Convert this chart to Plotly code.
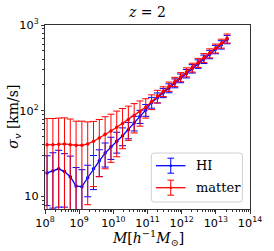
import plotly.graph_objects as go

# ---- data ----
mass = [1.148e8, 1.698e8, 2.512e8, 3.715e8, 5.495e8, 8.128e8, 1.202e9, 1.778e9,
        2.630e9, 3.890e9, 5.754e9, 8.511e9, 1.259e10, 1.862e10, 2.754e10, 4.074e10,
        6.026e10, 8.913e10, 1.318e11, 1.950e11, 2.884e11, 4.266e11, 6.310e11, 9.333e11,
        1.380e12, 2.042e12, 3.020e12, 4.467e12, 6.607e12, 9.772e12, 1.445e13, 2.138e13]
sigma_HI = [18.8, 19.8, 21.0, 19.5, 17.0, 13.2, 13.0, 16.5, 21, 26, 32, 38, 44, 51, 60, 72,
            86, 102, 125, 142, 162, 184, 210, 240, 272, 310, 352, 400, 455, 520, 590, 680]
err_HI = [11, 12.5, 13.5, 12, 12.5, 8.5, 7.5, 6.6, 9, 9, 10, 11, 12, 12, 13, 14,
          15, 16, 18, 19, 20, 22, 25, 28, 31, 35, 40, 45, 51, 58, 66, 76]
sigma_matter = [40, 40, 40.5, 41, 40, 39.5, 39.5, 41, 44, 48, 53, 58, 64, 71, 79, 88,
                98, 110, 128, 148, 168, 192, 218, 248, 282, 320, 364, 414, 470, 535, 610, 700]
err_matter = [41, 41, 41.5, 41.5, 40, 36, 36, 33, 31, 31, 32, 33, 35, 35, 34, 33,
              32, 28, 25, 25, 22, 24, 27, 30, 34, 38, 44, 50, 57, 64, 73, 85]

series_names = ["HI", "matter"]
series_colors = ["#0000ff", "#ff0000"]
x_range_log = [8, 14]
y_range_log = [0.853, 3.0]

fig = go.Figure()
for name, col, ys, es in [(series_names[0], series_colors[0], sigma_HI, err_HI),
                          (series_names[1], series_colors[1], sigma_matter, err_matter)]:
    fig.add_trace(go.Scatter(
        x=mass, y=ys, name=name, mode="lines+markers",
        line=dict(color=col, width=1.3),
        marker=dict(color=col, size=3.5),
        error_y=dict(type="data", array=es, visible=True, color=col,
                     thickness=1, width=3.5),
        showlegend=False,
    ))

L, R, T, B = 45, 13, 25, 42
W, H = 274, 251
pw, ph = W - L - R, H - T - B

def px(xp):
    return (xp - L) / pw

def py(yp):
    return (H - B - yp) / ph

# manual legend (matplotlib style, with error-bar glyphs)
bx0, bx1, by0, by1 = px(157), px(253), py(202), py(153)
rx, ry = 3 / pw, 3 / ph
path = (f"M {bx0+rx},{by0} L {bx1-rx},{by0} Q {bx1},{by0} {bx1},{by0+ry} "
        f"L {bx1},{by1-ry} Q {bx1},{by1} {bx1-rx},{by1} L {bx0+rx},{by1} "
        f"Q {bx0},{by1} {bx0},{by1-ry} L {bx0},{by0+ry} Q {bx0},{by0} {bx0+rx},{by0} Z")
shapes = [dict(type="path", xref="paper", yref="paper", path=path,
               line=dict(color="#d0d0d0", width=1), fillcolor="rgba(255,255,255,0.85)")]
annotations = []
for i, (name, col) in enumerate(zip(series_names, series_colors)):
    yc = 165.7 + 22 * i
    shapes.append(dict(type="line", xref="paper", yref="paper", x0=px(162), x1=px(193),
                       y0=py(yc), y1=py(yc), line=dict(color=col, width=1.3)))
    shapes.append(dict(type="line", xref="paper", yref="paper", x0=px(177.5), x1=px(177.5),
                       y0=py(yc - 7.5), y1=py(yc + 7.5), line=dict(color=col, width=1)))
    for yy in (yc - 7.5, yc + 7.5):
        shapes.append(dict(type="line", xref="paper", yref="paper", x0=px(174), x1=px(181),
                           y0=py(yy), y1=py(yy), line=dict(color=col, width=1)))
    shapes.append(dict(type="circle", xref="paper", yref="paper",
                       x0=px(176.3), x1=px(178.7), y0=py(yc + 1.2), y1=py(yc - 1.2),
                       fillcolor=col, line=dict(width=0)))
    annotations.append(dict(text=name, xref="paper", yref="paper", x=px(202), y=py(yc),
                            xanchor="left", yanchor="middle", showarrow=False,
                            font=dict(family="DejaVu Serif", size=13, color="black")))

annotations.append(dict(text="<i>σ</i><sub><i>v</i></sub> [km/s]", xref="paper", yref="paper",
                        x=px(12), y=py(117), xanchor="center", yanchor="middle",
                        textangle=-90, showarrow=False,
                        font=dict(family="DejaVu Serif", size=14, color="black")))
annotations.append(dict(text="<i>M</i>[<i>h</i><sup>−1</sup><i>M</i><sub>⊙</sub>]",
                        xref="paper", yref="paper", x=0.5, y=py(237.5),
                        xanchor="center", yanchor="middle", showarrow=False,
                        font=dict(family="DejaVu Serif", size=14, color="black")))

axis_common = dict(type="log", showgrid=False, zeroline=False, showline=True,
                   linecolor="#333333", linewidth=1, mirror=True,
                   tickmode="linear", tick0=0, dtick=1,
                   ticks="outside", ticklen=3.5, tickwidth=0.8, tickcolor="#333333",
                   exponentformat="power", showexponent="all",
                   tickfont=dict(family="DejaVu Sans", size=9, color="black"),
                   minor=dict(ticks="outside", ticklen=2, tickwidth=0.6, tickcolor="#333333",
                              dtick="D1", showgrid=False))

fig.update_layout(
    width=W, height=H,
    margin=dict(l=L, r=R, t=T, b=B, pad=0),
    paper_bgcolor="white", plot_bgcolor="white",
    title=dict(text="<i>z</i> = 2", x=px(153), xref="paper", xanchor="center",
               y=1 - 12 / H, yref="container", yanchor="middle",
               font=dict(family="DejaVu Serif", size=14, color="black")),
    xaxis=dict(axis_common, range=x_range_log),
    yaxis=dict(axis_common, range=y_range_log),
    shapes=shapes, annotations=annotations,
)
fig.write_html("out.html", config={"displayModeBar": False},
               post_script="document.body.style.margin='0';document.body.style.overflow='hidden';")
